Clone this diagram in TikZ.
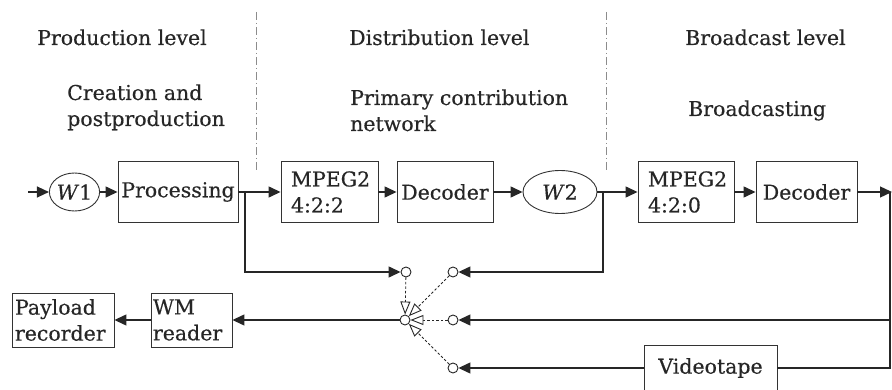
\documentclass[tikz,border=0pt]{standalone}
\usepackage{fontspec}
\setmainfont{DejaVu Serif}[FakeBold=0.4]
\usetikzlibrary{arrows.meta,shapes.geometric}

\begin{document}
\begin{tikzpicture}[x=1pt,y=-1pt,
  every node/.style={font=\fontsize{20.5}{26}\selectfont, text=black!85},
  box/.style={draw=black!80, line width=0.9pt, inner sep=0pt, minimum height=61pt},
  wmk/.style={draw=black!80, line width=0.9pt, ellipse, inner sep=0pt},
  flow/.style={draw=black!85, line width=1.3pt, -{Triangle[length=12pt,width=11pt]}},
  wire/.style={draw=black!85, line width=1.3pt},
  tap/.style={circle, draw=black!85, line width=0.9pt, fill=white, minimum size=10pt, inner sep=0pt},
  probe/.style={draw=black!85, line width=0.8pt, dash pattern=on 2.5pt off 2pt,
    -{Triangle[open,fill=white,length=13pt,width=10pt,line width=0.9pt]}},
  level/.style={draw=black!45, line width=0.9pt, dash pattern=on 8pt off 3pt on 1pt off 3pt},
  caption/.style={anchor=base west, align=left, inner sep=0pt}
]
\useasboundingbox (0,0) rectangle (892,390);

% level dividers
\draw[level] (256,12) -- (256,172);
\draw[level] (606,12) -- (606,172);

% headings (base anchor sits on the last line)
\node[caption] (hprod) at (37,45) {Production level};
\node[caption] (hdist) at (349,45) {Distribution level};
\node[caption] (hbroad) at (685,45) {Broadcast level};
\node[caption] (sprod) at (67,126) {Creation and\\postproduction};
\node[caption] (sdist) at (350,131) {Primary contribution\\network};
\node[caption] (sbroad) at (688,116) {Broadcasting};

% main chain
\node[wmk, minimum width=45pt, minimum height=38pt] (w1) at (74.5,192) {\textit{W}1};
\node[box, minimum width=120pt] (proc) at (178,192) {Processing};
\node[box, inner xsep=10pt, text width=77pt, align=left] (mpa) at (329.5,192) {MPEG2\\4:2:2};
\node[box, minimum width=96pt] (deca) at (445,192) {Decoder};
\node[wmk, minimum width=74pt, minimum height=43pt] (w2) at (560,192) {\textit{W}2};
\node[box, inner xsep=10pt, text width=76pt, align=left] (mpb) at (686,192) {MPEG2\\4:2:0};
\node[box, minimum width=101pt] (decb) at (806.5,192) {Decoder};

% reader side
\node[box, minimum height=54pt, inner xsep=3pt, text width=96pt, align=left] (pay) at (63,320) {Payload\\recorder};
\node[box, minimum height=54pt, inner xsep=2pt, text width=77pt, align=left] (wmr) at (191.5,320) {WM\\reader};
\node[box, minimum width=133pt, minimum height=46pt] (vt) at (710.5,368) {Videotape};

% switch contacts
\node[tap] (c1) at (406,272) {};
\node[tap] (c2) at (453,272) {};
\node[tap] (jn) at (405,320) {};
\node[tap] (c3) at (453,320) {};
\node[tap] (c4) at (453,368) {};

% helper points
\coordinate (src) at (28,192);
\coordinate (dst) at (892,192);
\coordinate (b1) at (245,192);
\coordinate (b2) at (603,192);
\coordinate (rt) at (890,192);
\coordinate (r3) at (890,320);
\coordinate (rb) at (890,368);

% signal chain
\draw[flow] (src) -- (w1);
\draw[flow] (w1) -- (proc);
\draw[flow] (proc) -- (mpa);
\draw[flow] (mpa) -- (deca);
\draw[flow] (deca) -- (w2);
\draw[flow] (w2) -- (mpb);
\draw[flow] (mpb) -- (decb);
\draw[flow] (decb) -- (dst);

% taps back to the reader
\draw[flow] (b1) |- (c1);
\draw[flow] (b2) |- (c2);
\draw[wire] (rt) -- (rb) -- (vt);
\draw[flow] (r3) -- (c3);
\draw[flow] (vt) -- (c4);
\draw[flow] (jn) -- (wmr);
\draw[flow] (wmr) -- (pay);

% selector
\draw[probe] (c1) -- (jn);
\draw[probe] (c2) -- (jn);
\draw[probe] (c3) -- (jn);
\draw[probe] (c4) -- (jn);
\end{tikzpicture}
\end{document}
